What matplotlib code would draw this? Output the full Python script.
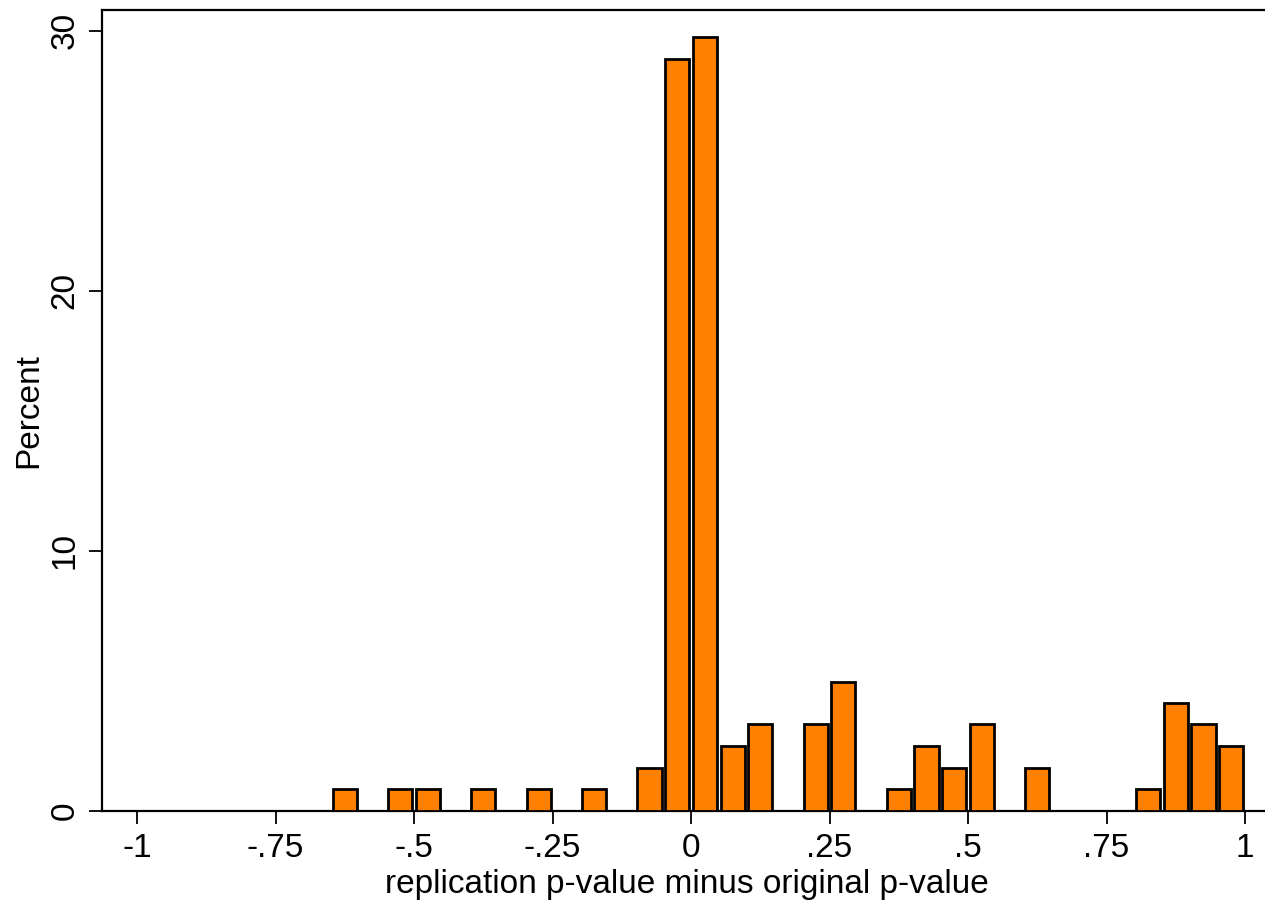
import matplotlib.pyplot as plt

# bin centres (width .05) and percent per bin
centers = [-0.625, -0.525, -0.475, -0.375, -0.275, -0.175, -0.075, -0.025,
           0.025, 0.075, 0.125, 0.225, 0.275, 0.375, 0.425, 0.475, 0.525,
           0.625, 0.825, 0.875, 0.925, 0.975]
percent = [0.83, 0.83, 0.83, 0.83, 0.83, 0.83, 1.65, 28.93,
           29.75, 2.48, 3.31, 3.31, 4.96, 0.83, 2.48, 1.65, 3.31,
           1.65, 0.83, 4.13, 3.31, 2.48]
xticks = [-1, -0.75, -0.5, -0.25, 0, 0.25, 0.5, 0.75, 1]
xticklabels = ['-1', '-.75', '-.5', '-.25', '0', '.25', '.5', '.75', '1']
yticks = [0, 10, 20, 30]

plt.rcParams['font.family'] = ['Liberation Sans', 'DejaVu Sans']

fig = plt.figure(figsize=(12.65, 9.05), dpi=100)
ax = fig.add_axes([102/1265, 1 - 810.5/905, 1170/1265, 800.5/905])

ax.bar(centers, percent, width=0.0435, color='#ff8000', edgecolor='black',
       linewidth=2.0, zorder=3)

ax.set_xlim(-1.0632, 1.0487)
ax.set_ylim(0, 30.8)
ax.set_xticks(xticks)
ax.set_xticklabels(xticklabels)
ax.set_yticks(yticks)
ax.set_yticklabels([str(v) for v in yticks], rotation=90, va='center')

for s in ax.spines.values():
    s.set_linewidth(1.6)
ax.spines['right'].set_visible(False)

ax.tick_params(axis='both', labelsize=24, length=9.5, width=1.3, pad=7)
ax.tick_params(axis='y', pad=6)
ax.set_xlabel('replication p-value minus original p-value', fontsize=24, labelpad=3)
ax.set_ylabel('Percent', fontsize=24, labelpad=4)

fig.savefig('out.png', dpi=100)
